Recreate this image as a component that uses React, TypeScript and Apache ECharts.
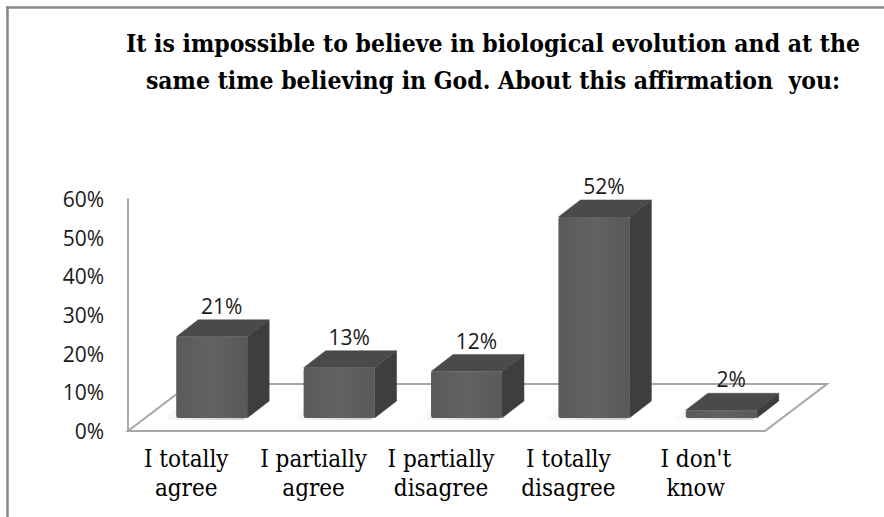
import React, { useEffect, useRef } from "react";
import * as echarts from "echarts";

const TITLE_LINES = [
  "It is impossible to believe in biological evolution and at the",
  "same time believing in God. About this affirmation  you:",
];
const CATEGORIES = [
  "I totally\nagree",
  "I partially\nagree",
  "I partially\ndisagree",
  "I totally\ndisagree",
  "I don't\nknow",
];
const VALUES = [21, 13, 12, 52, 2];
const Y_MIN = 0;
const Y_MAX = 60;
const Y_INTERVAL = 10;

const SANS = "Open Sans";
const SERIF = "'DejaVu Serif Condensed', 'DejaVu Serif'";

const FLOOR_DX = 62;
const FLOOR_DY = -47;
const BAR_DX = 20;
const BAR_DY = -13;
const DEPTH_DX = 22;
const DEPTH_DY = -17;
const BAR_FRAC = 0.557;

export default function App() {
  const ref = useRef<HTMLDivElement>(null);
  useEffect(() => {
    if (!ref.current) return;
    const chart = echarts.init(ref.current, undefined, { renderer: "svg" });

    const floorSeries = {
      type: "custom",
      z: 1,
      silent: true,
      data: [[0, 0]],
      renderItem: (params: any, api: any) => {
        const cs = params.coordSys;
        const x0 = cs.x;
        const x1 = cs.x + cs.width;
        const yb = cs.y + cs.height;
        return {
          type: "polygon",
          shape: {
            points: [
              [x0, yb],
              [x1, yb],
              [x1 + FLOOR_DX, yb + FLOOR_DY],
              [x0 + FLOOR_DX, yb + FLOOR_DY],
            ],
          },
          style: { fill: "#ffffff", stroke: "#a6a6a6", lineWidth: 2 },
        };
      },
    };

    const barSeries = {
      type: "custom",
      z: 3,
      data: VALUES.map((v, i) => [i, v]),
      encode: { x: 0, y: 1 },
      renderItem: (params: any, api: any) => {
        const i = api.value(0);
        const v = api.value(1);
        const base = api.coord([i, 0]);
        const top = api.coord([i, v]);
        const band = api.size([1, 0])[0];
        const w = band * BAR_FRAC;
        const cx = base[0] + BAR_DX;
        const l = cx - w / 2;
        const r = cx + w / 2;
        const yb = base[1] + BAR_DY;
        const yt = top[1] + BAR_DY;
        const children: any[] = [];
        children.push({
          type: "polygon",
          shape: {
            points: [
              [l - 14, yb + 2],
              [r - 4, yb + 2],
              [r + DEPTH_DX - 6, yb + DEPTH_DY + 4],
              [l + DEPTH_DX - 18, yb + DEPTH_DY + 4],
            ],
          },
          style: {
            fill: {
              type: "linear",
              x: 0, y: 0, x2: 1, y2: 0,
              colorStops: [
                { offset: 0, color: "rgba(150,150,150,0)" },
                { offset: 0.5, color: "rgba(150,150,150,0.35)" },
                { offset: 1, color: "rgba(150,150,150,0.5)" },
              ],
            },
          },
        });
        children.push({
          type: "polygon",
          shape: {
            points: [
              [r, yt],
              [r + DEPTH_DX, yt + DEPTH_DY],
              [r + DEPTH_DX, yb + DEPTH_DY],
              [r, yb],
            ],
          },
          style: { fill: "#3e3e3e", stroke: "#3e3e3e", lineWidth: 0.5, lineJoin: "round" },
        });
        children.push({
          type: "polygon",
          shape: {
            points: [
              [l, yt],
              [l + DEPTH_DX, yt + DEPTH_DY],
              [r + DEPTH_DX, yt + DEPTH_DY],
              [r, yt],
            ],
          },
          style: { fill: "#4a4a4a", stroke: "#4a4a4a", lineWidth: 0.5, lineJoin: "round" },
        });
        children.push({
          type: "rect",
          shape: { x: l, y: yt, width: w, height: yb - yt, r: 2 },
          style: {
            fill: {
              type: "linear",
              x: 0, y: 0, x2: 1, y2: 0,
              colorStops: [
                { offset: 0, color: "#5a5a5a" },
                { offset: 0.5, color: "#626262" },
                { offset: 1, color: "#595959" },
              ],
            },
          },
        });
        children.push({
          type: "text",
          style: {
            text: v + "%",
            x: cx + 10,
            y: yt + DEPTH_DY - 14,
            align: "center",
            verticalAlign: "middle",
            fontFamily: SANS,
            fontSize: 21,
            fill: "#1a1a1a",
          },
        });
        return { type: "group", children };
      },
    };

    chart.setOption({
      animation: false,
      backgroundColor: "#ffffff",
      title: {
        text: TITLE_LINES.join("\n"),
        left: 488,
        top: 20,
        textAlign: "center",
        textStyle: {
          fontFamily: SERIF,
          fontWeight: "bold",
          fontSize: 24.5,
          lineHeight: 37,
          color: "#000000",
        },
      },
      graphic: [
        {
          type: "line",
          shape: { x1: 7.5, y1: 6, x2: 7.5, y2: 517 },
          style: { stroke: "#888888", lineWidth: 2.5 },
          silent: true,
          z: 10,
        },
        {
          type: "line",
          shape: { x1: 6, y1: 7.5, x2: 884, y2: 7.5 },
          style: { stroke: "#888888", lineWidth: 2.5 },
          silent: true,
          z: 10,
        },
      ],
      grid: { left: 128, right: 119, top: 199, bottom: 86, containLabel: false },
      xAxis: {
        type: "category",
        data: CATEGORIES,
        axisLine: { show: false },
        axisTick: { show: false },
        axisLabel: {
          interval: 0,
          margin: 13,
          padding: [0, 11, 0, 0],
          fontFamily: SERIF,
          fontSize: 24,
          lineHeight: 29,
          color: "#000000",
        },
      },
      yAxis: {
        type: "value",
        min: Y_MIN,
        max: Y_MAX,
        interval: Y_INTERVAL,
        splitLine: { show: false },
        axisTick: { show: false },
        axisLine: { show: true, lineStyle: { color: "#8c8c8c", width: 1.5 } },
        axisLabel: {
          formatter: "{value}%",
          margin: 24,
          fontFamily: SANS,
          fontSize: 21,
          color: "#1a1a1a",
        },
      },
      series: [floorSeries, barSeries],
    });
    return () => chart.dispose();
  }, []);
  return (
    <div
      ref={ref}
      style={{ position: "absolute", left: 0, top: 0, width: 884, height: 517 }}
    />
  );
}
